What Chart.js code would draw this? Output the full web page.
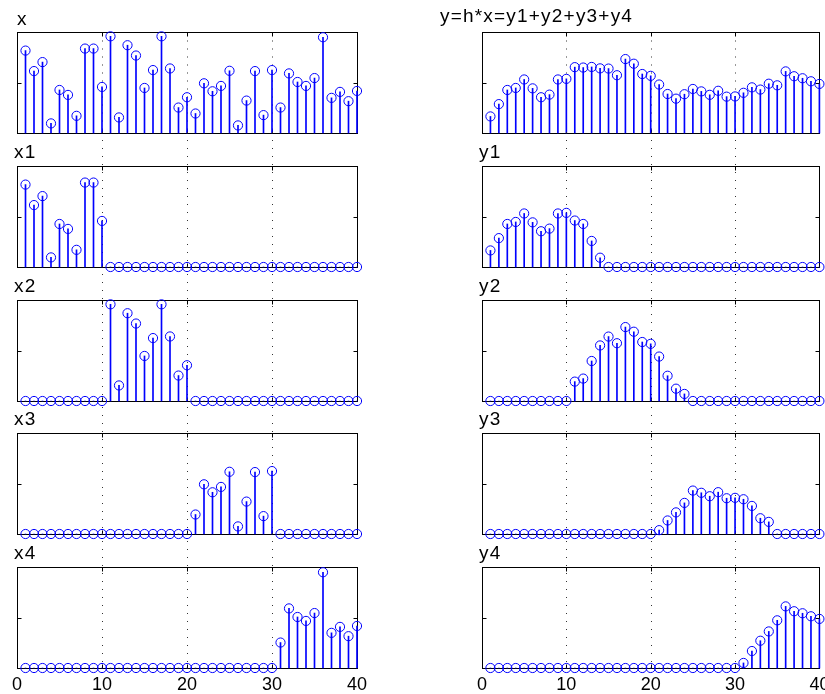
<!DOCTYPE html>
<html>
<head>
<meta charset="utf-8">
<title>Block convolution by overlap-add</title>
<script src="https://cdn.jsdelivr.net/npm/chart.js@4.4.1/dist/chart.umd.min.js"></script>
<style>
html, body { margin: 0; padding: 0; background: #ffffff; }
body { position: relative; width: 825px; height: 694px; overflow: hidden; }
canvas { position: absolute; }
</style>
</head>
<body>
<script>
// ---- data -------------------------------------------------------------
const n = [1,2,3,4,5,6,7,8,9,10,11,12,13,14,15,16,17,18,19,20,
           21,22,23,24,25,26,27,28,29,30,31,32,33,34,35,36,37,38,39,40];
const xTicks = [0, 10, 20, 30, 40];
const inputTicksY = [0, 0.5, 1];
const outputTicksY = [0, 2.5, 5];
const inputTitles = ['x', 'x1', 'x2', 'x3', 'x4'];
const outputTitles = ['y=h*x=y1+y2+y3+y4', 'y1', 'y2', 'y3', 'y4'];

// input signal and its four blocks of 10 samples
const x  = [0.816,0.613,0.702,0.095,0.426,0.377,0.170,0.836,0.836,0.456,
            0.957,0.154,0.869,0.767,0.446,0.623,0.957,0.639,0.252,0.354,
            0.193,0.492,0.413,0.466,0.616,0.075,0.321,0.613,0.177,0.623,
            0.252,0.590,0.505,0.466,0.544,0.948,0.348,0.407,0.315,0.416];
const x1 = [0.816,0.613,0.702,0.095,0.426,0.377,0.170,0.836,0.836,0.456,
            0,0,0,0,0,0,0,0,0,0, 0,0,0,0,0,0,0,0,0,0, 0,0,0,0,0,0,0,0,0,0];
const x2 = [0,0,0,0,0,0,0,0,0,0,
            0.957,0.154,0.869,0.767,0.446,0.623,0.957,0.639,0.252,0.354,
            0,0,0,0,0,0,0,0,0,0, 0,0,0,0,0,0,0,0,0,0];
const x3 = [0,0,0,0,0,0,0,0,0,0, 0,0,0,0,0,0,0,0,0,0,
            0.193,0.492,0.413,0.466,0.616,0.075,0.321,0.613,0.177,0.623,
            0,0,0,0,0,0,0,0,0,0];
const x4 = [0,0,0,0,0,0,0,0,0,0, 0,0,0,0,0,0,0,0,0,0, 0,0,0,0,0,0,0,0,0,0,
            0.252,0.590,0.505,0.466,0.544,0.948,0.348,0.407,0.315,0.416];

// filtered output and the partial outputs of each block
const y  = [0.82,1.43,2.13,2.23,2.65,2.21,1.77,1.90,2.65,2.68,
            3.26,3.24,3.27,3.20,3.19,2.86,3.66,3.43,2.92,2.83,
            2.40,1.93,1.70,1.92,2.18,2.06,1.89,2.09,1.80,1.81,
            1.99,2.26,2.15,2.44,2.36,3.05,2.81,2.71,2.56,2.43];
const y1 = [0.82,1.43,2.13,2.23,2.65,2.21,1.77,1.90,2.65,2.68,
            2.30,2.13,1.29,0.46,0,0,0,0,0,0,
            0,0,0,0,0,0,0,0,0,0, 0,0,0,0,0,0,0,0,0,0];
const y2 = [0,0,0,0,0,0,0,0,0,0,
            0.96,1.11,1.98,2.75,3.19,2.86,3.66,3.43,2.92,2.83,
            2.20,1.25,0.61,0.35,0,0,0,0,0,0,
            0,0,0,0,0,0,0,0,0,0];
const y3 = [0,0,0,0,0,0,0,0,0,0, 0,0,0,0,0,0,0,0,0,0,
            0.19,0.67,1.07,1.54,2.15,2.04,1.87,2.07,1.77,1.79,
            1.72,1.39,0.78,0.60,0,0,0,0,0,0];
const y4 = [0,0,0,0,0,0,0,0,0,0, 0,0,0,0,0,0,0,0,0,0, 0,0,0,0,0,0,0,0,0,0,
            0.25,0.84,1.35,1.81,2.36,3.05,2.81,2.71,2.56,2.43];

const inputSeries = [x, x1, x2, x3, x4];
const outputSeries = [y, y1, y2, y3, y4];

// ---- layout -----------------------------------------------------------
const BOX_TOP = [32, 166, 299.5, 433, 566.5];
const BOX_H = 101;
const COLS = [
  { canvasLeft: 0,   canvasWidth: 380, left: 17,  right: 357, yMax: 1, yTicks: inputTicksY,  titles: inputTitles,  series: inputSeries },
  { canvasLeft: 430, canvasWidth: 395, left: 482, right: 822, yMax: 5, yTicks: outputTicksY, titles: outputTitles, series: outputSeries }
];
const STEM_BLUE = '#0000ff';
const FONT = '"Liberation Sans", Arial, Helvetica, sans-serif';

// axes box, inward ticks, dotted grid, title and x tick labels
const stemFrame = {
  id: 'stemFrame',
  beforeDatasetsDraw(chart, args, o) {
    const ctx = chart.ctx;
    const a = chart.chartArea;
    const xs = chart.scales.x, ys = chart.scales.y;
    const L = Math.round(a.left) + 0.5, R = Math.round(a.right) + 0.5;
    const T = Math.round(a.top) + 0.5, B = Math.round(a.bottom) + 0.5;
    ctx.save();

    // dotted vertical grid, continued up through the gap above the box
    ctx.strokeStyle = '#333333';
    ctx.lineWidth = 1;
    ctx.setLineDash([1, 7]);
    const gTop = o.row === 0 ? T : 0;
    o.xTicks.forEach(v => {
      if (v === xs.min || v === xs.max) return;
      const px = Math.round(xs.getPixelForValue(v)) + 0.5;
      ctx.beginPath();
      ctx.moveTo(px, gTop);
      ctx.lineTo(px, B);
      ctx.stroke();
    });
    ctx.setLineDash([]);

    // box
    ctx.strokeStyle = '#000000';
    ctx.lineWidth = 1;
    ctx.strokeRect(L, T, R - L, B - T);

    // inward tick marks
    ctx.beginPath();
    o.yTicks.forEach(v => {
      if (v === ys.min || v === ys.max) return;
      const py = Math.round(ys.getPixelForValue(v)) + 0.5;
      ctx.moveTo(L, py); ctx.lineTo(L + 4, py);
      ctx.moveTo(R, py); ctx.lineTo(R - 4, py);
    });
    o.xTicks.forEach(v => {
      if (v === xs.min || v === xs.max) return;
      const px = Math.round(xs.getPixelForValue(v)) + 0.5;
      ctx.moveTo(px, B); ctx.lineTo(px, B - 4);
      ctx.moveTo(px, T); ctx.lineTo(px, T + 4);
    });
    ctx.stroke();

    // panel title
    ctx.fillStyle = '#000000';
    ctx.font = '19px ' + FONT;
    ctx.letterSpacing = '1.2px';
    ctx.textAlign = 'left';
    ctx.textBaseline = 'alphabetic';
    ctx.fillText(o.title, a.left + o.titleDx, a.top + o.titleDy);
    ctx.letterSpacing = '0px';

    // x tick labels on the bottom row
    if (o.showTickLabels) {
      ctx.font = '18px ' + FONT;
      ctx.textAlign = 'center';
      o.xTicks.forEach(v => {
        ctx.fillText(String(v), xs.getPixelForValue(v), a.bottom + 22);
      });
    }
    ctx.restore();
  }
};

function makePanel(col, row) {
  const c = COLS[col];
  const boxTop = BOX_TOP[row];
  const boxBottom = boxTop + BOX_H;
  const canvasTop = row === 0 ? 0 : boxTop - 34;
  const canvasBottom = row === 4 ? 694 : boxBottom + 8;
  const h = Math.round(canvasBottom - canvasTop);

  const cv = document.createElement('canvas');
  cv.width = c.canvasWidth;
  cv.height = h;
  cv.style.left = c.canvasLeft + 'px';
  cv.style.top = canvasTop + 'px';
  cv.style.width = c.canvasWidth + 'px';
  cv.style.height = h + 'px';
  document.body.appendChild(cv);

  const values = c.series[row];
  const pts = n.map((k, i) => ({ x: k, y: values[i] }));

  let titleDx = -3, titleDy = -8;
  if (row === 0 && col === 0) { titleDx = 0; titleDy = -7.5; }
  if (row === 0 && col === 1) { titleDx = -42; titleDy = -10.5; }

  new Chart(cv, {
    type: 'bar',
    data: {
      datasets: [
        {
          type: 'bar',
          data: pts,
          backgroundColor: STEM_BLUE,
          borderWidth: 0,
          barThickness: 1,
          clip: false,
          order: 2
        },
        {
          type: 'scatter',
          data: pts,
          showLine: false,
          pointStyle: 'circle',
          pointRadius: 4.6,
          pointHoverRadius: 4.6,
          pointBorderWidth: 1,
          pointBorderColor: STEM_BLUE,
          pointBackgroundColor: 'rgba(0,0,0,0)',
          clip: false,
          order: 1
        }
      ]
    },
    options: {
      responsive: false,
      animation: false,
      devicePixelRatio: 1,
      events: [],
      layout: {
        padding: {
          left: c.left - c.canvasLeft,
          right: c.canvasLeft + c.canvasWidth - c.right,
          top: boxTop - canvasTop,
          bottom: h - (boxBottom - canvasTop)
        }
      },
      scales: {
        x: { type: 'linear', min: 0, max: 40, offset: false, display: false },
        y: { type: 'linear', min: 0, max: c.yMax, display: false }
      },
      plugins: {
        legend: { display: false },
        tooltip: { enabled: false },
        title: { display: false },
        stemFrame: {
          row: row,
          title: c.titles[row],
          titleDx: titleDx,
          titleDy: titleDy,
          xTicks: xTicks,
          yTicks: c.yTicks,
          showTickLabels: row === 4
        }
      }
    },
    plugins: [stemFrame]
  });
}

for (let r = 0; r < 5; r++) {
  makePanel(0, r);
  makePanel(1, r);
}
</script>
</body>
</html>
